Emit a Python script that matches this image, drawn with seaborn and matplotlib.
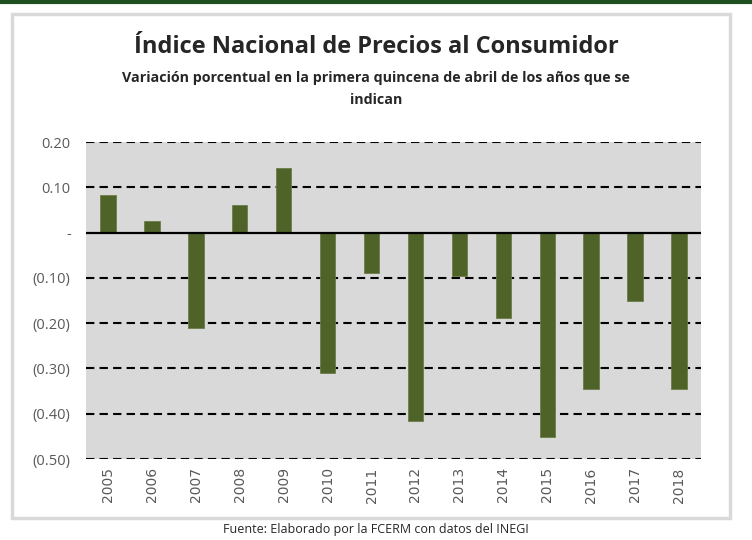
import numpy as np
import pandas as pd
import seaborn as sns
import matplotlib.pyplot as plt
from matplotlib.patches import Rectangle
from matplotlib.lines import Line2D

# Data
years = ['2005', '2006', '2007', '2008', '2009', '2010', '2011',
         '2012', '2013', '2014', '2015', '2016', '2017', '2018']
variation = [0.082, 0.026, -0.21, 0.06, 0.143, -0.31, -0.09,
             -0.417, -0.095, -0.188, -0.452, -0.346, -0.152, -0.346]
y_ticks = [0.20, 0.10, 0.0, -0.10, -0.20, -0.30, -0.40, -0.50]
y_labels = ['0.20', '0.10', '-', '(0.10)', '(0.20)', '(0.30)', '(0.40)', '(0.50)']

df = pd.DataFrame({'year': years, 'value': variation})

sns.set_style('white')
plt.rcParams['font.family'] = ['Open Sans', 'DejaVu Sans']

fig = plt.figure(figsize=(7.52, 5.40), dpi=100)

# Outer frame and top rule
fig.patches.append(Rectangle((12 / 752, 1 - 518 / 540), 718 / 752, 504 / 540,
                             transform=fig.transFigure, facecolor='white',
                             edgecolor='#d9d9d9', linewidth=2.5, zorder=-5))
fig.lines.append(Line2D([0, 1], [1 - 2 / 540, 1 - 2 / 540], transform=fig.transFigure,
                        color='#1e4f1e', linewidth=3))

ax = fig.add_axes([86 / 752, 1 - 459 / 540, 615 / 752, 317 / 540])
ax.set_zorder(2)
ax.set_facecolor('#d9d9d9')

for t in y_ticks:
    if t != 0:
        ax.axhline(t, color='black', linewidth=1.5, linestyle=(0, (4, 2.5)), zorder=1)

sns.barplot(data=df, x='year', y='value', color='#4f6228', saturation=1,
            width=0.35, ax=ax, zorder=2, edgecolor='#6b7d4a', linewidth=0.6)
ax.axhline(0, color='black', linewidth=1.6, zorder=3)

ax.set_ylim(-0.50, 0.20)
ax.set_xlim(-0.5, len(years) - 0.5)
ax.set_yticks(y_ticks)
ax.set_yticklabels(y_labels, color='#595959', fontsize=10.5)
ax.tick_params(axis='x', rotation=90, labelsize=10, labelcolor='#595959', length=0, pad=6)
ax.tick_params(axis='y', length=0, pad=11)
for lab in ax.get_xticklabels():
    lab.set_family('DejaVu Sans')
for s in ax.spines.values():
    s.set_visible(False)
ax.set_xlabel('')
ax.set_ylabel('')

fig.text(0.5, 1 - 47 / 540, 'Índice Nacional de Precios al Consumidor',
         ha='center', va='center', fontsize=17, fontweight='bold')
fig.text(0.5, 1 - 78 / 540, 'Variación porcentual en la primera quincena de abril de los años que se',
         ha='center', va='center', fontsize=10.3, fontweight='bold')
fig.text(0.5, 1 - 100 / 540, 'indican',
         ha='center', va='center', fontsize=10.3, fontweight='bold')
fig.text(0.5, 1 - 530 / 540, 'Fuente: Elaborado por la FCERM con datos del INEGI',
         ha='center', va='center', fontsize=9)

fig.savefig('out.png', dpi=100)
